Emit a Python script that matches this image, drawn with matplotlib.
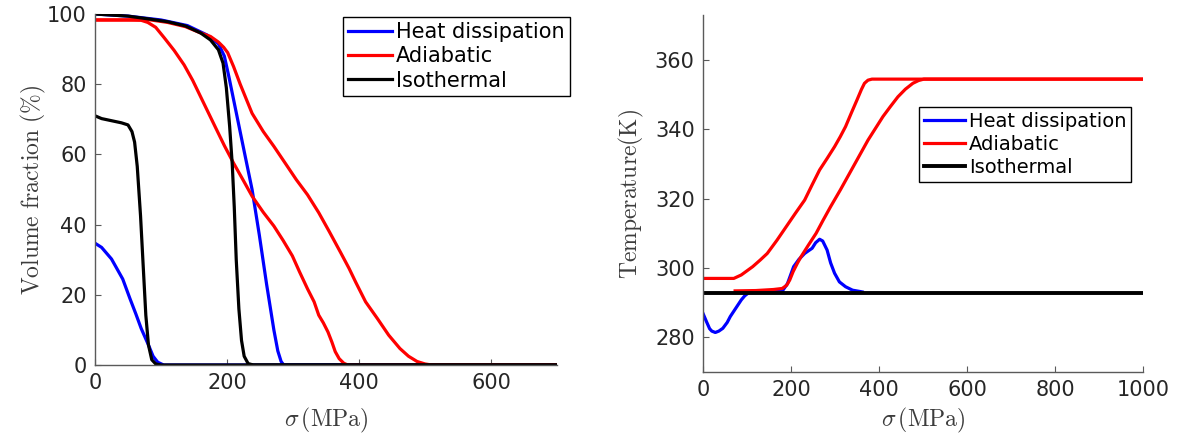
import matplotlib
matplotlib.use("Agg")
import matplotlib.pyplot as plt

plt.rcParams['font.family'] = ['DejaVu Sans']
plt.rcParams['mathtext.fontset'] = 'cm'

# ---------------- Left panel: volume fraction vs stress ----------------
heat_low_x = [0, 10, 25, 42, 53, 62, 70, 81, 88, 95, 104, 700]
heat_low_y = [34.7, 33.5, 30.2, 24.5, 18.9, 14.5, 10.4, 5.7, 2.5, 0.8, 0, 0]

heat_high_x = [0, 50, 100, 140, 170, 187, 196, 203, 215, 227, 238, 249, 260, 271, 277, 282, 286, 700]
heat_high_y = [100, 99.4, 98.3, 96.7, 94.0, 91.5, 88.0, 82.0, 71.0, 60.0, 50.0, 37.0, 23.0, 10.0, 4.0, 1.0, 0, 0]

iso_high_x = [0, 50, 81, 110, 137, 160, 175, 187, 194, 199, 204, 208, 211, 214, 218, 222, 226, 232, 240, 700]
iso_high_y = [100, 99.4, 98.6, 97.8, 96.6, 94.6, 92.6, 89.8, 86.0, 79.0, 68.0, 57.0, 45.0, 30.0, 16.0, 7.0, 2.5, 0.4, 0, 0]

iso_low_x = [0, 10, 25, 40, 50, 56, 60, 64, 69, 73, 77, 81, 86, 92, 100, 700]
iso_low_y = [71.0, 70.2, 69.6, 69.0, 68.4, 66.5, 63.5, 56.6, 42.5, 28.3, 14.2, 5.7, 1.5, 0.3, 0, 0]

adia_out_x = [0, 40, 60, 81, 110, 137, 160, 175, 187, 195, 201, 210, 220, 238, 255, 271, 290, 305, 322, 339, 355,
              372, 385, 395, 410, 428, 445, 462, 475, 488, 500, 510, 700]
adia_out_y = [98.3, 98.3, 98.4, 98.4, 97.6, 96.4, 94.6, 93.6, 92.0, 90.5, 89.0, 85.0, 80.0, 71.7, 66.5, 62.3,
              57.0, 52.8, 48.5, 43.4, 38.0, 32.1, 27.5, 23.6, 18.0, 13.2, 8.5, 4.7, 2.5, 1.0, 0.3, 0, 0]

adia_in_x = [0, 40, 70, 80, 92, 105, 120, 135, 148, 165, 182, 196, 210, 225, 238, 255, 271, 285, 299,
             310, 322, 332, 339, 346, 353, 359, 364, 370, 377, 383, 700]
adia_in_y = [98.3, 98.3, 98.2, 97.6, 96.2, 93.2, 89.6, 85.5, 81.1, 74.5, 67.9, 62.5, 57.5, 52.5, 48.1, 43.5,
             39.6, 35.5, 31.1, 26.5, 21.7, 18.0, 14.2, 12.0, 9.4, 6.5, 3.8, 1.8, 0.5, 0, 0]

# ---------------- Right panel: temperature vs stress ----------------
iso_T_x = [0, 1000]
iso_T_y = [292.9, 292.9]

adia_T_out_x = [0, 40, 70, 87, 100, 113, 130, 146, 168, 189, 210, 231, 248, 265, 282, 299, 312, 324,
                337, 350, 360, 367, 375, 384, 400, 1000]
adia_T_out_y = [297.0, 297.0, 297.0, 298.0, 299.2, 300.4, 302.3, 304.2, 308.0, 311.9, 315.8, 319.6, 324.0,
                328.3, 331.6, 335.0, 337.9, 340.8, 344.7, 348.5, 351.5, 353.3, 354.2, 354.5, 354.5, 354.5]

adia_T_in_x = [73, 120, 160, 180, 190, 197, 205, 215, 223, 240, 257, 273, 290, 312, 333, 354, 375, 392,
               409, 426, 443, 460, 477, 490, 502, 520, 1000]
adia_T_in_y = [293.4, 293.5, 293.8, 294.1, 295.0, 296.5, 299.0, 301.5, 303.3, 306.7, 310.0, 313.8, 317.7,
               322.5, 327.3, 332.1, 336.9, 340.3, 343.7, 346.6, 349.4, 351.6, 353.3, 354.1, 354.5, 354.5, 354.5]

heat_T_x = [0, 8, 15, 20, 28, 36, 45, 55, 62, 75, 87, 95, 104, 140, 180, 192, 206, 218, 231, 240, 248,
            256, 265, 272, 282, 290, 299, 310, 324, 340, 358, 362]
heat_T_y = [286.9, 284.5, 282.5, 281.8, 281.4, 281.8, 282.6, 284.3, 286.0, 288.5, 290.8, 292.0, 292.9,
            293.0, 293.3, 295.5, 300.4, 302.5, 304.2, 305.0, 305.7, 307.3, 308.3, 307.8, 305.2, 301.5,
            298.5, 296.0, 294.6, 293.6, 293.2, 293.1]

labels = ['Heat dissipation', 'Adiabatic', 'Isothermal']
BLUE, RED, BLACK = '#0000ff', '#ff0000', '#000000'
LW = 2.3
SPINE = '#5a5a5a'
LABEL_C = '#3c3c3c'

fig = plt.figure(figsize=(11.84, 4.41), dpi=100)
W, H = 1184.0, 441.0

def style(ax):
    for s in ['top', 'right']:
        ax.spines[s].set_visible(False)
    for s in ['left', 'bottom']:
        ax.spines[s].set_color(SPINE)
        ax.spines[s].set_linewidth(1.0)
    ax.tick_params(direction='in', length=4, width=0.8, color=SPINE,
                   labelsize=15, labelcolor='#262626', pad=6)

# left axes
ax1 = fig.add_axes([95 / W, 1 - 365 / H, 462 / W, 351 / H])
l1, = ax1.plot(heat_high_x, heat_high_y, color=BLUE, lw=LW)
ax1.plot(heat_low_x, heat_low_y, color=BLUE, lw=LW)
l2, = ax1.plot(adia_out_x, adia_out_y, color=RED, lw=LW)
ax1.plot(adia_in_x, adia_in_y, color=RED, lw=LW)
l3, = ax1.plot(iso_high_x, iso_high_y, color=BLACK, lw=LW)
ax1.plot(iso_low_x, iso_low_y, color=BLACK, lw=LW)
ax1.set_xlim(0, 700)
ax1.set_ylim(0, 100)
ax1.set_xticks([0, 200, 400, 600])
ax1.set_yticks([0, 20, 40, 60, 80, 100])
style(ax1)
ax1.set_xlabel(r'$\sigma\,(\mathrm{MPa})$', fontsize=17, color=LABEL_C, labelpad=9)
ax1.set_ylabel(r'$\mathrm{Volume\ fraction\ (\%)}$', fontsize=17, color=LABEL_C, labelpad=-1)
ax1.legend([l1, l2, l3], labels, loc='upper right',
           bbox_to_anchor=(570 / W, 1 - 17 / H), bbox_transform=fig.transFigure,
           fontsize=15, frameon=True, fancybox=False, edgecolor='#000000', framealpha=1,
           handlelength=2.1, handletextpad=0.2, borderpad=0.25, labelspacing=0.2,
           borderaxespad=0)

# right axes
ax2 = fig.add_axes([703 / W, 1 - 372 / H, 440 / W, 357 / H])
m1, = ax2.plot(heat_T_x, heat_T_y, color=BLUE, lw=LW)
m2, = ax2.plot(adia_T_out_x, adia_T_out_y, color=RED, lw=LW)
ax2.plot(adia_T_in_x, adia_T_in_y, color=RED, lw=LW)
m3, = ax2.plot(iso_T_x, iso_T_y, color=BLACK, lw=LW + 0.5)
ax2.set_xlim(0, 1000)
ax2.set_ylim(270, 373)
ax2.set_xticks([0, 200, 400, 600, 800, 1000])
ax2.set_yticks([280, 300, 320, 340, 360])
style(ax2)
ax2.set_xlabel(r'$\sigma\,(\mathrm{MPa})$', fontsize=17, color=LABEL_C, labelpad=4)
ax2.set_ylabel(r'$\mathrm{Temperature(K)}$', fontsize=17, color=LABEL_C, labelpad=6)
ax2.legend([m1, m2, m3], labels, loc='upper right',
           bbox_to_anchor=(1131 / W, 1 - 107 / H), bbox_transform=fig.transFigure,
           fontsize=14, frameon=True, fancybox=False, edgecolor='#000000', framealpha=1,
           handlelength=2.1, handletextpad=0.2, borderpad=0.25, labelspacing=0.2,
           borderaxespad=0)

fig.savefig('out.png', dpi=100)
